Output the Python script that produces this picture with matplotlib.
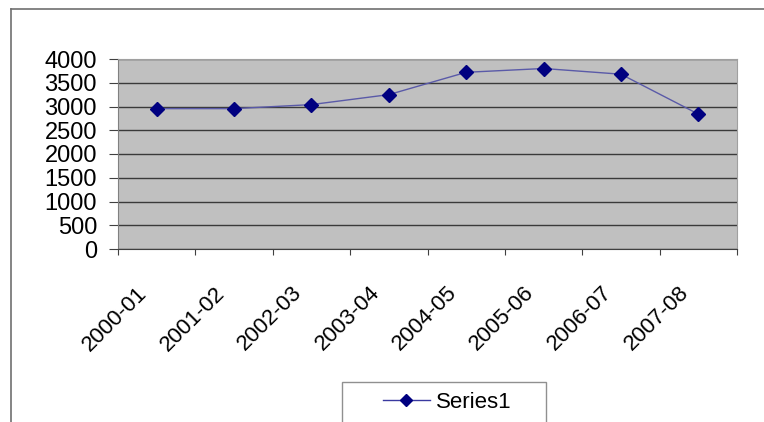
import matplotlib
matplotlib.use("Agg")
import matplotlib.pyplot as plt
from matplotlib.lines import Line2D
from matplotlib.patches import Rectangle
from matplotlib.transforms import ScaledTranslation

plt.rcParams['font.family'] = ['Liberation Sans', 'DejaVu Sans']

periods = ["2000-01", "2001-02", "2002-03", "2003-04",
           "2004-05", "2005-06", "2006-07", "2007-08"]
series1 = [2955, 2955, 3040, 3250, 3720, 3800, 3680, 2840]
yticks = [0, 500, 1000, 1500, 2000, 2500, 3000, 3500, 4000]

W, H = 764, 422
fig = plt.figure(figsize=(W / 100, H / 100), dpi=100)
fig.patch.set_facecolor("white")

# chart-area frame (top and left edges)
fig.add_artist(Line2D([11 / W, 1.0], [1 - 9 / H, 1 - 9 / H], color="#707070", lw=1.2))
fig.add_artist(Line2D([11 / W, 11 / W], [0, 1 - 9 / H], color="#707070", lw=1.2))

ax = fig.add_axes([118 / W, 1 - 249 / H, (737 - 118) / W, (249 - 59) / H])
ax.set_facecolor("#c0c0c0")

n = len(periods)
xs = [i + 0.5 for i in range(n)]
ax.plot(xs, series1, color="#5a5aa8", lw=1.0, zorder=3)
ax.plot(xs, series1, linestyle="none", marker="D", markersize=7.5,
        color="#000080", markeredgecolor="#000080", zorder=4)

ax.set_xlim(0, n)
ax.set_ylim(0, 4000)
ax.set_yticks(yticks)
ax.set_yticklabels([str(v) for v in yticks], fontsize=17)
ax.yaxis.grid(True, color="#3a3a3a", lw=1.0)
ax.set_axisbelow(True)

# category boundaries carry tick marks, labels sit at category centers
ax.set_xticks(range(n + 1))
ax.set_xticklabels([])
ax.set_xticks(xs, minor=True)
ax.set_xticklabels(periods, minor=True, rotation=45, ha="right",
                   rotation_mode="anchor", fontsize=16)
ax.tick_params(axis="x", which="minor", length=0, pad=14)
ax.tick_params(axis="x", which="major", length=4.3, color="#404040")
ax.tick_params(axis="y", length=6.5, pad=8.6, color="#404040")

shift = ScaledTranslation(-0.20, -0.14, fig.dpi_scale_trans)
for lbl in ax.get_xticklabels(minor=True):
    lbl.set_transform(lbl.get_transform() + shift)

for s in ["top", "right"]:
    ax.spines[s].set_color("#a0a0a0")
ax.spines["left"].set_color("#808080")
ax.spines["bottom"].set_color("#404040")

# legend box
fig.add_artist(Rectangle((342 / W, -0.05), (546 - 342) / W, 0.05 + (422 - 382) / H,
                         transform=fig.transFigure, facecolor="white",
                         edgecolor="#909090", lw=1.0))
handle = Line2D([], [], color="#3a3aa0", lw=1.0, marker="D", markersize=6.5,
                markerfacecolor="#000080", markeredgecolor="#000080")
fig.legend([handle], ["Series1"], loc="center left",
           bbox_to_anchor=(383 / W, 1 - 402 / H), frameon=False,
           fontsize=16, handlelength=2.1, handletextpad=0.3,
           borderpad=0, borderaxespad=0)

fig.savefig("out.png", dpi=100)
